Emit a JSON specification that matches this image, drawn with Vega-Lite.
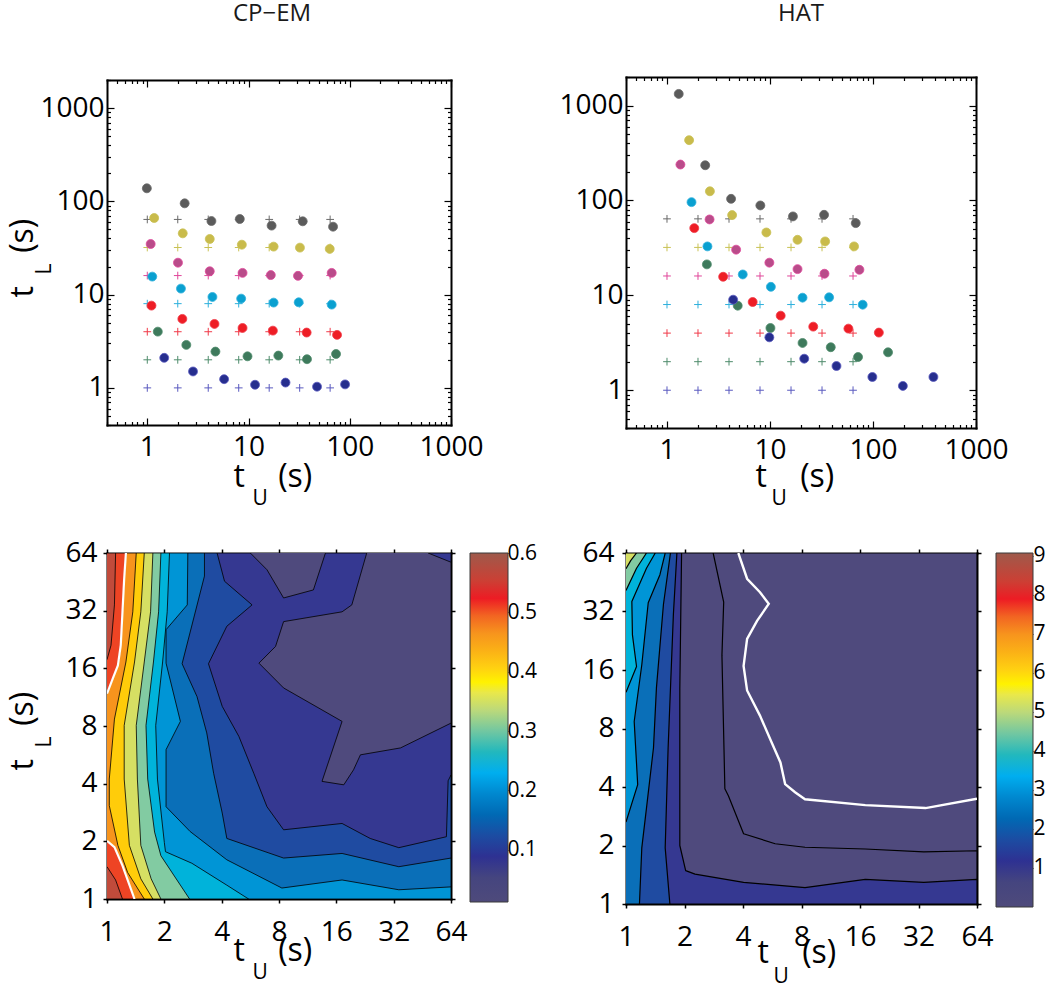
{
"$schema": "https://vega.github.io/schema/vega-lite/v6.json",
"background": "white",
"padding": {"left": 6, "top": 2, "right": 0, "bottom": 4},
"config": {"font": "Open Sans", "view": {"stroke": null}},
"datasets": {
"cpem_pts": [
{"set_tU":1,"set_tL":64,"est_tU":0.99,"est_tL":138},{"set_tU":2,"set_tL":64,"est_tU":2.34,"est_tL":95.2},{"set_tU":4,"set_tL":64,"est_tU":4.30,"est_tL":61.5},{"set_tU":8,"set_tL":64,"est_tU":8.2,"est_tL":64.7},{"set_tU":16,"set_tL":64,"est_tU":16.9,"est_tL":54.9},{"set_tU":32,"set_tL":64,"est_tU":34.3,"est_tL":61.1},{"set_tU":64,"set_tL":64,"est_tU":68.4,"est_tL":53.5},
{"set_tU":1,"set_tL":32,"est_tU":1.17,"est_tL":66.3},{"set_tU":2,"set_tL":32,"est_tU":2.24,"est_tL":45.4},{"set_tU":4,"set_tL":32,"est_tU":4.14,"est_tL":39.5},{"set_tU":8,"set_tL":32,"est_tU":8.59,"est_tL":34.3},{"set_tU":16,"set_tL":32,"est_tU":17.7,"est_tL":32.7},{"set_tU":32,"set_tL":32,"est_tU":32.2,"est_tL":31.9},{"set_tU":64,"set_tL":32,"est_tU":63.4,"est_tL":30.9},
{"set_tU":1,"set_tL":16,"est_tU":1.08,"est_tL":34.9},{"set_tU":2,"set_tL":16,"est_tU":2.01,"est_tL":22.0},{"set_tU":4,"set_tL":16,"est_tU":4.14,"est_tL":17.8},{"set_tU":8,"set_tL":16,"est_tU":8.73,"est_tL":17.1},{"set_tU":16,"set_tL":16,"est_tU":16.6,"est_tL":16.2},{"set_tU":32,"set_tL":16,"est_tU":30.8,"est_tL":15.9},{"set_tU":64,"set_tL":16,"est_tU":66.3,"est_tL":17.1},
{"set_tU":1,"set_tL":8,"est_tU":1.12,"est_tL":15.6},{"set_tU":2,"set_tL":8,"est_tU":2.15,"est_tL":11.6},{"set_tU":4,"set_tL":8,"est_tU":4.40,"est_tL":9.44},{"set_tU":8,"set_tL":8,"est_tU":8.46,"est_tL":9.06},{"set_tU":16,"set_tL":8,"est_tU":17.7,"est_tL":8.21},{"set_tU":32,"set_tL":8,"est_tU":31.3,"est_tL":8.27},{"set_tU":64,"set_tL":8,"est_tU":66.3,"est_tL":7.81},
{"set_tU":1,"set_tL":4,"est_tU":1.10,"est_tL":7.62},{"set_tU":2,"set_tL":4,"est_tU":2.22,"est_tL":5.49},{"set_tU":4,"set_tL":4,"est_tU":4.61,"est_tL":4.85},{"set_tU":8,"set_tL":4,"est_tU":8.73,"est_tL":4.39},{"set_tU":16,"set_tL":4,"est_tU":17.4,"est_tL":4.11},{"set_tU":32,"set_tL":4,"est_tU":37.5,"est_tL":3.92},{"set_tU":64,"set_tL":4,"est_tU":74.9,"est_tL":3.70},
{"set_tU":1,"set_tL":2,"est_tU":1.27,"est_tL":4.01},{"set_tU":2,"set_tL":2,"est_tU":2.43,"est_tL":2.89},{"set_tU":4,"set_tL":2,"est_tU":4.71,"est_tL":2.45},{"set_tU":8,"set_tL":2,"est_tU":9.77,"est_tL":2.18},{"set_tU":16,"set_tL":2,"est_tU":19.7,"est_tL":2.22},{"set_tU":32,"set_tL":2,"est_tU":37.8,"est_tL":2.03},{"set_tU":64,"set_tL":2,"est_tU":73.2,"est_tL":2.31},
{"set_tU":1,"set_tL":1,"est_tU":1.47,"est_tL":2.10},{"set_tU":2,"set_tL":1,"est_tU":2.83,"est_tL":1.50},{"set_tU":4,"set_tL":1,"est_tU":5.74,"est_tL":1.24},{"set_tU":8,"set_tL":1,"est_tU":11.6,"est_tL":1.08},{"set_tU":16,"set_tL":1,"est_tU":23.2,"est_tL":1.14},{"set_tU":32,"set_tL":1,"est_tU":47.5,"est_tL":1.03},{"set_tU":64,"set_tL":1,"est_tU":89.9,"est_tL":1.09}
],
"hat_pts": [
{"set_tU":1,"set_tL":64,"est_tU":1.30,"est_tL":1327},{"set_tU":2,"set_tL":64,"est_tU":2.35,"est_tL":235},{"set_tU":4,"set_tL":64,"est_tU":4.19,"est_tL":104},{"set_tU":8,"set_tL":64,"est_tU":8.06,"est_tL":88.6},{"set_tU":16,"set_tL":64,"est_tU":16.7,"est_tL":67.9},{"set_tU":32,"set_tL":64,"est_tU":33.5,"est_tL":70.6},{"set_tU":64,"set_tL":64,"est_tU":68.0,"est_tL":57.7},
{"set_tU":1,"set_tL":32,"est_tU":1.64,"est_tL":432},{"set_tU":2,"set_tL":32,"est_tU":2.61,"est_tL":125},{"set_tU":4,"set_tL":32,"est_tU":4.29,"est_tL":70.1},{"set_tU":8,"set_tL":32,"est_tU":9.22,"est_tL":46.0},{"set_tU":16,"set_tL":32,"est_tU":18.5,"est_tL":38.5},{"set_tU":32,"set_tL":32,"est_tU":34.3,"est_tL":37.0},{"set_tU":64,"set_tL":32,"est_tU":65.5,"est_tL":32.8},
{"set_tU":1,"set_tL":16,"est_tU":1.35,"est_tL":239},{"set_tU":2,"set_tL":16,"est_tU":2.59,"est_tL":63.1},{"set_tU":4,"set_tL":16,"est_tU":4.69,"est_tL":30.3},{"set_tU":8,"set_tL":16,"est_tU":9.86,"est_tL":22.1},{"set_tU":16,"set_tL":16,"est_tU":18.5,"est_tL":18.9},{"set_tU":32,"set_tL":16,"est_tU":33.8,"est_tL":16.9},{"set_tU":64,"set_tL":16,"est_tU":73.8,"est_tL":18.6},
{"set_tU":1,"set_tL":8,"est_tU":1.73,"est_tL":96.0},{"set_tU":2,"set_tL":8,"est_tU":2.47,"est_tL":32.8},{"set_tU":4,"set_tL":8,"est_tU":5.44,"est_tL":16.6},{"set_tU":8,"set_tL":8,"est_tU":10.2,"est_tL":12.3},{"set_tU":16,"set_tL":8,"est_tU":20.7,"est_tL":9.45},{"set_tU":32,"set_tL":8,"est_tU":37.5,"est_tL":9.53},{"set_tU":64,"set_tL":8,"est_tU":79.4,"est_tL":7.97},
{"set_tU":1,"set_tL":4,"est_tU":1.84,"est_tL":51.1},{"set_tU":2,"set_tL":4,"est_tU":3.51,"est_tL":15.7},{"set_tU":4,"set_tL":4,"est_tU":6.79,"est_tL":8.51},{"set_tU":8,"set_tL":4,"est_tU":12.7,"est_tL":6.11},{"set_tU":16,"set_tL":4,"est_tU":26.3,"est_tL":4.68},{"set_tU":32,"set_tL":4,"est_tU":57.7,"est_tL":4.46},{"set_tU":64,"set_tL":4,"est_tU":114,"est_tL":4.05},
{"set_tU":1,"set_tL":2,"est_tU":2.44,"est_tL":21.2},{"set_tU":2,"set_tL":2,"est_tU":4.86,"est_tL":7.78},{"set_tU":4,"set_tL":2,"est_tU":10.1,"est_tL":4.53},{"set_tU":8,"set_tL":2,"est_tU":20.7,"est_tL":3.15},{"set_tU":16,"set_tL":2,"est_tU":38.9,"est_tL":2.84},{"set_tU":32,"set_tL":2,"est_tU":71.6,"est_tL":2.24},{"set_tU":64,"set_tL":2,"est_tU":140,"est_tL":2.51},
{"set_tU":1,"set_tL":1,"est_tU":4.39,"est_tL":9.0},{"set_tU":2,"set_tL":1,"est_tU":9.86,"est_tL":3.61},{"set_tU":4,"set_tL":1,"est_tU":21.5,"est_tL":2.15},{"set_tU":8,"set_tL":1,"est_tU":44.2,"est_tL":1.80},{"set_tU":16,"set_tL":1,"est_tU":98.6,"est_tL":1.38},{"set_tU":32,"set_tL":1,"est_tU":195,"est_tL":1.11},{"set_tU":64,"set_tL":1,"est_tU":386,"est_tL":1.38}
],
"cpem_poly": [
{"poly":"p00","level":0.05,"i":0,"log2tU":0,"log2tL":0},{"poly":"p00","level":0.05,"i":1,"log2tU":6,"log2tL":0},{"poly":"p00","level":0.05,"i":2,"log2tU":6,"log2tL":6},{"poly":"p00","level":0.05,"i":3,"log2tU":0,"log2tL":6},
{"poly":"p01","level":0,"i":0,"log2tU":2.50,"log2tL":6},{"poly":"p01","level":0,"i":1,"log2tU":2.79,"log2tL":5.71},{"poly":"p01","level":0,"i":2,"log2tU":3.08,"log2tL":5.22},{"poly":"p01","level":0,"i":3,"log2tU":3.60,"log2tL":5.36},{"poly":"p01","level":0,"i":4,"log2tU":3.81,"log2tL":6},
{"poly":"p02","level":0,"i":0,"log2tU":4.53,"log2tL":6},{"poly":"p02","level":0,"i":1,"log2tU":4.27,"log2tL":5.10},{"poly":"p02","level":0,"i":2,"log2tU":4.10,"log2tL":4.98},{"poly":"p02","level":0,"i":3,"log2tU":3.08,"log2tL":4.81},{"poly":"p02","level":0,"i":4,"log2tU":2.94,"log2tL":4.38},{"poly":"p02","level":0,"i":5,"log2tU":2.65,"log2tL":4.09},{"poly":"p02","level":0,"i":6,"log2tU":3.08,"log2tL":3.66},{"poly":"p02","level":0,"i":7,"log2tU":4.10,"log2tL":3.08},{"poly":"p02","level":0,"i":8,"log2tU":3.75,"log2tL":2.04},{"poly":"p02","level":0,"i":9,"log2tU":4.13,"log2tL":1.98},{"poly":"p02","level":0,"i":10,"log2tU":4.30,"log2tL":2.24},{"poly":"p02","level":0,"i":11,"log2tU":4.42,"log2tL":2.50},{"poly":"p02","level":0,"i":12,"log2tU":5.12,"log2tL":2.62},{"poly":"p02","level":0,"i":13,"log2tU":6,"log2tL":3.05},{"poly":"p02","level":0,"i":14,"log2tU":6,"log2tL":5.84},{"poly":"p02","level":0,"i":15,"log2tU":5.60,"log2tL":6},
{"poly":"p03","level":0.1,"i":0,"log2tU":0,"log2tL":6},{"poly":"p03","level":0.1,"i":1,"log2tU":1.92,"log2tL":6},{"poly":"p03","level":0.1,"i":2,"log2tU":2.05,"log2tL":5.51},{"poly":"p03","level":0.1,"i":3,"log2tU":2.53,"log2tL":5.10},{"poly":"p03","level":0.1,"i":4,"log2tU":2.09,"log2tL":4.73},{"poly":"p03","level":0.1,"i":5,"log2tU":1.77,"log2tL":4.08},{"poly":"p03","level":0.1,"i":6,"log2tU":2.01,"log2tL":3.34},{"poly":"p03","level":0.1,"i":7,"log2tU":2.30,"log2tL":2.82},{"poly":"p03","level":0.1,"i":8,"log2tU":2.56,"log2tL":2.18},{"poly":"p03","level":0.1,"i":9,"log2tU":2.79,"log2tL":1.60},{"poly":"p03","level":0.1,"i":10,"log2tU":3.08,"log2tL":1.20},{"poly":"p03","level":0.1,"i":11,"log2tU":4.10,"log2tL":1.31},{"poly":"p03","level":0.1,"i":12,"log2tU":4.59,"log2tL":1.05},{"poly":"p03","level":0.1,"i":13,"log2tU":5.09,"log2tL":0.89},{"poly":"p03","level":0.1,"i":14,"log2tU":5.92,"log2tL":1.08},{"poly":"p03","level":0.1,"i":15,"log2tU":5.95,"log2tL":2.05},{"poly":"p03","level":0.1,"i":16,"log2tU":6,"log2tL":2.15},{"poly":"p03","level":0.1,"i":17,"log2tU":6,"log2tL":0},{"poly":"p03","level":0.1,"i":18,"log2tU":0,"log2tL":0},
{"poly":"p04","level":0.15,"i":0,"log2tU":0,"log2tL":6},{"poly":"p04","level":0.15,"i":1,"log2tU":1.70,"log2tL":6},{"poly":"p04","level":0.15,"i":2,"log2tU":1.70,"log2tL":5.60},{"poly":"p04","level":0.15,"i":3,"log2tU":1.31,"log2tL":4.08},{"poly":"p04","level":0.15,"i":4,"log2tU":1.57,"log2tL":3.51},{"poly":"p04","level":0.15,"i":5,"log2tU":1.74,"log2tL":2.88},{"poly":"p04","level":0.15,"i":6,"log2tU":1.86,"log2tL":2.18},{"poly":"p04","level":0.15,"i":7,"log2tU":2.01,"log2tL":1.49},{"poly":"p04","level":0.15,"i":8,"log2tU":2.09,"log2tL":1.05},{"poly":"p04","level":0.15,"i":9,"log2tU":3.08,"log2tL":0.71},{"poly":"p04","level":0.15,"i":10,"log2tU":4.10,"log2tL":0.79},{"poly":"p04","level":0.15,"i":11,"log2tU":5.09,"log2tL":0.56},{"poly":"p04","level":0.15,"i":12,"log2tU":6,"log2tL":0.71},{"poly":"p04","level":0.15,"i":13,"log2tU":6,"log2tL":0},{"poly":"p04","level":0.15,"i":14,"log2tU":0,"log2tL":0},
{"poly":"p05","level":0.2,"i":0,"log2tU":0,"log2tL":6},{"poly":"p05","level":0.2,"i":1,"log2tU":1.41,"log2tL":6},{"poly":"p05","level":0.2,"i":2,"log2tU":1.40,"log2tL":5.10},{"poly":"p05","level":0.2,"i":3,"log2tU":1.03,"log2tL":4.67},{"poly":"p05","level":0.2,"i":4,"log2tU":1.03,"log2tL":4.09},{"poly":"p05","level":0.2,"i":5,"log2tU":1.28,"log2tL":3.08},{"poly":"p05","level":0.2,"i":6,"log2tU":1.03,"log2tL":2.59},{"poly":"p05","level":0.2,"i":7,"log2tU":1.03,"log2tL":1.60},{"poly":"p05","level":0.2,"i":8,"log2tU":1.45,"log2tL":1.17},{"poly":"p05","level":0.2,"i":9,"log2tU":2.09,"log2tL":0.68},{"poly":"p05","level":0.2,"i":10,"log2tU":3.05,"log2tL":0.19},{"poly":"p05","level":0.2,"i":11,"log2tU":4.10,"log2tL":0.33},{"poly":"p05","level":0.2,"i":12,"log2tU":5.09,"log2tL":0.16},{"poly":"p05","level":0.2,"i":13,"log2tU":6,"log2tL":0.21},{"poly":"p05","level":0.2,"i":14,"log2tU":6,"log2tL":0},{"poly":"p05","level":0.2,"i":15,"log2tU":0,"log2tL":0},
{"poly":"p06","level":0.25,"i":0,"log2tU":0,"log2tL":6},{"poly":"p06","level":0.25,"i":1,"log2tU":1.09,"log2tL":6},{"poly":"p06","level":0.25,"i":2,"log2tU":1.05,"log2tL":4.98},{"poly":"p06","level":0.25,"i":3,"log2tU":0.97,"log2tL":4.11},{"poly":"p06","level":0.25,"i":4,"log2tU":0.85,"log2tL":3.01},{"poly":"p06","level":0.25,"i":5,"log2tU":0.88,"log2tL":2.08},{"poly":"p06","level":0.25,"i":6,"log2tU":1.00,"log2tL":0.98},{"poly":"p06","level":0.25,"i":7,"log2tU":1.02,"log2tL":0.82},{"poly":"p06","level":0.25,"i":8,"log2tU":1.48,"log2tL":0.62},{"poly":"p06","level":0.25,"i":9,"log2tU":2.09,"log2tL":0.24},{"poly":"p06","level":0.25,"i":10,"log2tU":2.47,"log2tL":0},{"poly":"p06","level":0.25,"i":11,"log2tU":0,"log2tL":0},
{"poly":"p07","level":0.3,"i":0,"log2tU":0,"log2tL":6},{"poly":"p07","level":0.3,"i":1,"log2tU":0.94,"log2tL":6},{"poly":"p07","level":0.3,"i":2,"log2tU":0.90,"log2tL":4.98},{"poly":"p07","level":0.3,"i":3,"log2tU":0.81,"log2tL":4.11},{"poly":"p07","level":0.3,"i":4,"log2tU":0.68,"log2tL":3.01},{"poly":"p07","level":0.3,"i":5,"log2tU":0.71,"log2tL":2.08},{"poly":"p07","level":0.3,"i":6,"log2tU":0.83,"log2tL":1.16},{"poly":"p07","level":0.3,"i":7,"log2tU":0.94,"log2tL":0.75},{"poly":"p07","level":0.3,"i":8,"log2tU":1.44,"log2tL":0},{"poly":"p07","level":0.3,"i":9,"log2tU":0,"log2tL":0},
{"poly":"p08","level":0.35,"i":0,"log2tU":0,"log2tL":6},{"poly":"p08","level":0.35,"i":1,"log2tU":0.80,"log2tL":6},{"poly":"p08","level":0.35,"i":2,"log2tU":0.76,"log2tL":4.98},{"poly":"p08","level":0.35,"i":3,"log2tU":0.65,"log2tL":4.11},{"poly":"p08","level":0.35,"i":4,"log2tU":0.51,"log2tL":3.01},{"poly":"p08","level":0.35,"i":5,"log2tU":0.53,"log2tL":2.08},{"poly":"p08","level":0.35,"i":6,"log2tU":0.59,"log2tL":0.93},{"poly":"p08","level":0.35,"i":7,"log2tU":0.77,"log2tL":0.35},{"poly":"p08","level":0.35,"i":8,"log2tU":0.94,"log2tL":0},{"poly":"p08","level":0.35,"i":9,"log2tU":0,"log2tL":0},
{"poly":"p09","level":0.4,"i":0,"log2tU":0,"log2tL":6},{"poly":"p09","level":0.4,"i":1,"log2tU":0.65,"log2tL":6},{"poly":"p09","level":0.4,"i":2,"log2tU":0.59,"log2tL":4.98},{"poly":"p09","level":0.4,"i":3,"log2tU":0.48,"log2tL":4.11},{"poly":"p09","level":0.4,"i":4,"log2tU":0.30,"log2tL":3.01},{"poly":"p09","level":0.4,"i":5,"log2tU":0.30,"log2tL":2.08},{"poly":"p09","level":0.4,"i":6,"log2tU":0.39,"log2tL":0.93},{"poly":"p09","level":0.4,"i":7,"log2tU":0.59,"log2tL":0.35},{"poly":"p09","level":0.4,"i":8,"log2tU":0.80,"log2tL":0},{"poly":"p09","level":0.4,"i":9,"log2tU":0,"log2tL":0},
{"poly":"p10","level":0.45,"i":0,"log2tU":0,"log2tL":6},{"poly":"p10","level":0.45,"i":1,"log2tU":0.51,"log2tL":6},{"poly":"p10","level":0.45,"i":2,"log2tU":0.45,"log2tL":4.98},{"poly":"p10","level":0.45,"i":3,"log2tU":0.33,"log2tL":4.11},{"poly":"p10","level":0.45,"i":4,"log2tU":0.13,"log2tL":3.12},{"poly":"p10","level":0.45,"i":5,"log2tU":0.04,"log2tL":2.08},{"poly":"p10","level":0.45,"i":6,"log2tU":0.04,"log2tL":1.62},{"poly":"p10","level":0.45,"i":7,"log2tU":0.19,"log2tL":0.93},{"poly":"p10","level":0.45,"i":8,"log2tU":0.36,"log2tL":0.46},{"poly":"p10","level":0.45,"i":9,"log2tU":0.65,"log2tL":0},{"poly":"p10","level":0.45,"i":10,"log2tU":0,"log2tL":0},
{"poly":"p11","level":0.5,"i":0,"log2tU":0,"log2tL":6},{"poly":"p11","level":0.5,"i":1,"log2tU":0.33,"log2tL":6},{"poly":"p11","level":0.5,"i":2,"log2tU":0.30,"log2tL":5.56},{"poly":"p11","level":0.5,"i":3,"log2tU":0.24,"log2tL":4.40},{"poly":"p11","level":0.5,"i":4,"log2tU":0.19,"log2tL":4.05},{"poly":"p11","level":0.5,"i":5,"log2tU":0.10,"log2tL":3.82},{"poly":"p11","level":0.5,"i":6,"log2tU":0,"log2tL":3.56},
{"poly":"p12","level":0.5,"i":0,"log2tU":0,"log2tL":1.01},{"poly":"p12","level":0.5,"i":1,"log2tU":0.13,"log2tL":0.90},{"poly":"p12","level":0.5,"i":2,"log2tU":0.27,"log2tL":0.58},{"poly":"p12","level":0.5,"i":3,"log2tU":0.48,"log2tL":0},{"poly":"p12","level":0.5,"i":4,"log2tU":0,"log2tL":0},
{"poly":"p13","level":0.55,"i":0,"log2tU":0,"log2tL":6},{"poly":"p13","level":0.55,"i":1,"log2tU":0.15,"log2tL":6},{"poly":"p13","level":0.55,"i":2,"log2tU":0.13,"log2tL":5.10},{"poly":"p13","level":0.55,"i":3,"log2tU":0.07,"log2tL":4.40},{"poly":"p13","level":0.55,"i":4,"log2tU":0,"log2tL":4.15},
{"poly":"p14","level":0.55,"i":0,"log2tU":0,"log2tL":0.56},{"poly":"p14","level":0.55,"i":1,"log2tU":0.15,"log2tL":0.33},{"poly":"p14","level":0.55,"i":2,"log2tU":0.27,"log2tL":0},{"poly":"p14","level":0.55,"i":3,"log2tU":0,"log2tL":0}
],
"cpem_white": [
{"seg":"w0","i":0,"log2tU":0.33,"log2tL":6},{"seg":"w0","i":1,"log2tU":0.30,"log2tL":5.56},{"seg":"w0","i":2,"log2tU":0.24,"log2tL":4.40},{"seg":"w0","i":3,"log2tU":0.19,"log2tL":4.05},{"seg":"w0","i":4,"log2tU":0.10,"log2tL":3.82},{"seg":"w0","i":5,"log2tU":0,"log2tL":3.56},
{"seg":"w1","i":0,"log2tU":0,"log2tL":1.01},{"seg":"w1","i":1,"log2tU":0.13,"log2tL":0.90},{"seg":"w1","i":2,"log2tU":0.27,"log2tL":0.58},{"seg":"w1","i":3,"log2tU":0.48,"log2tL":0}
],
"hat_poly": [
{"poly":"q00","level":0,"i":0,"log2tU":0,"log2tL":0},{"poly":"q00","level":0,"i":1,"log2tU":6,"log2tL":0},{"poly":"q00","level":0,"i":2,"log2tU":6,"log2tL":6},{"poly":"q00","level":0,"i":3,"log2tU":0,"log2tL":6},
{"poly":"q01","level":1,"i":0,"log2tU":0,"log2tL":6},{"poly":"q01","level":1,"i":1,"log2tU":1.49,"log2tL":6},{"poly":"q01","level":1,"i":2,"log2tU":1.67,"log2tL":5.16},{"poly":"q01","level":1,"i":3,"log2tU":1.64,"log2tL":4.25},{"poly":"q01","level":1,"i":4,"log2tU":1.69,"log2tL":1.97},{"poly":"q01","level":1,"i":5,"log2tU":1.75,"log2tL":1.85},{"poly":"q01","level":1,"i":6,"log2tU":2.01,"log2tL":1.20},{"poly":"q01","level":1,"i":7,"log2tU":2.55,"log2tL":1.03},{"poly":"q01","level":1,"i":8,"log2tU":3.06,"log2tL":0.97},{"poly":"q01","level":1,"i":9,"log2tU":4.09,"log2tL":0.94},{"poly":"q01","level":1,"i":10,"log2tU":5.09,"log2tL":0.89},{"poly":"q01","level":1,"i":11,"log2tU":6,"log2tL":0.91},{"poly":"q01","level":1,"i":12,"log2tU":6,"log2tL":0},{"poly":"q01","level":1,"i":13,"log2tU":0,"log2tL":0},
{"poly":"q02","level":2,"i":0,"log2tU":0,"log2tL":6},{"poly":"q02","level":2,"i":1,"log2tU":0.95,"log2tL":6},{"poly":"q02","level":2,"i":2,"log2tU":0.92,"log2tL":3.68},{"poly":"q02","level":2,"i":3,"log2tU":0.92,"log2tL":1.0},{"poly":"q02","level":2,"i":4,"log2tU":1.02,"log2tL":0.57},{"poly":"q02","level":2,"i":5,"log2tU":1.18,"log2tL":0.51},{"poly":"q02","level":2,"i":6,"log2tU":2.01,"log2tL":0.37},{"poly":"q02","level":2,"i":7,"log2tU":3.06,"log2tL":0.28},{"poly":"q02","level":2,"i":8,"log2tU":4.09,"log2tL":0.42},{"poly":"q02","level":2,"i":9,"log2tU":5.09,"log2tL":0.37},{"poly":"q02","level":2,"i":10,"log2tU":6,"log2tL":0.42},{"poly":"q02","level":2,"i":11,"log2tU":6,"log2tL":0},{"poly":"q02","level":2,"i":12,"log2tU":0,"log2tL":0},
{"poly":"q03","level":3,"i":0,"log2tU":0,"log2tL":6},{"poly":"q03","level":3,"i":1,"log2tU":0.87,"log2tL":6},{"poly":"q03","level":3,"i":2,"log2tU":0.81,"log2tL":4.95},{"poly":"q03","level":3,"i":3,"log2tU":0.72,"log2tL":2.67},{"poly":"q03","level":3,"i":4,"log2tU":0.67,"log2tL":0.96},{"poly":"q03","level":3,"i":5,"log2tU":0.75,"log2tL":0},{"poly":"q03","level":3,"i":6,"log2tU":0,"log2tL":0},
{"poly":"q04","level":4,"i":0,"log2tU":0,"log2tL":6},{"poly":"q04","level":4,"i":1,"log2tU":0.76,"log2tL":6},{"poly":"q04","level":4,"i":2,"log2tU":0.64,"log2tL":5.12},{"poly":"q04","level":4,"i":3,"log2tU":0.52,"log2tL":3.69},{"poly":"q04","level":4,"i":4,"log2tU":0.47,"log2tL":2.67},{"poly":"q04","level":4,"i":5,"log2tU":0.35,"log2tL":1.64},{"poly":"q04","level":4,"i":6,"log2tU":0.27,"log2tL":0.96},{"poly":"q04","level":4,"i":7,"log2tU":0.23,"log2tL":0},{"poly":"q04","level":4,"i":8,"log2tU":0,"log2tL":0},
{"poly":"q05","level":5,"i":0,"log2tU":0,"log2tL":6},{"poly":"q05","level":5,"i":1,"log2tU":0.67,"log2tL":6},{"poly":"q05","level":5,"i":2,"log2tU":0.58,"log2tL":5.63},{"poly":"q05","level":5,"i":3,"log2tU":0.38,"log2tL":5.15},{"poly":"q05","level":5,"i":4,"log2tU":0.27,"log2tL":4.09},{"poly":"q05","level":5,"i":5,"log2tU":0.14,"log2tL":3.12},{"poly":"q05","level":5,"i":6,"log2tU":0.20,"log2tL":2.04},{"poly":"q05","level":5,"i":7,"log2tU":0,"log2tL":1.40},
{"poly":"q06","level":6,"i":0,"log2tU":0,"log2tL":6},{"poly":"q06","level":6,"i":1,"log2tU":0.50,"log2tL":6},{"poly":"q06","level":6,"i":2,"log2tU":0.35,"log2tL":5.74},{"poly":"q06","level":6,"i":3,"log2tU":0.10,"log2tL":5.17},{"poly":"q06","level":6,"i":4,"log2tU":0.11,"log2tL":4.60},{"poly":"q06","level":6,"i":5,"log2tU":0.18,"log2tL":4.06},{"poly":"q06","level":6,"i":6,"log2tU":0,"log2tL":3.62},
{"poly":"q07","level":7,"i":0,"log2tU":0,"log2tL":6},{"poly":"q07","level":7,"i":1,"log2tU":0.35,"log2tL":6},{"poly":"q07","level":7,"i":2,"log2tU":0.18,"log2tL":5.74},{"poly":"q07","level":7,"i":3,"log2tU":0,"log2tL":5.36},
{"poly":"q08","level":8,"i":0,"log2tU":0,"log2tL":6},{"poly":"q08","level":8,"i":1,"log2tU":0.18,"log2tL":6},{"poly":"q08","level":8,"i":2,"log2tU":0.08,"log2tL":5.87},{"poly":"q08","level":8,"i":3,"log2tU":0,"log2tL":5.73}
],
"hat_white": [
{"seg":"w0","i":0,"log2tU":1.92,"log2tL":6},{"seg":"w0","i":1,"log2tU":2.07,"log2tL":5.56},{"seg":"w0","i":2,"log2tU":2.29,"log2tL":5.33},{"seg":"w0","i":3,"log2tU":2.44,"log2tL":5.13},{"seg":"w0","i":4,"log2tU":2.24,"log2tL":4.84},{"seg":"w0","i":5,"log2tU":2.07,"log2tL":4.53},{"seg":"w0","i":6,"log2tU":2.01,"log2tL":4.07},{"seg":"w0","i":7,"log2tU":2.07,"log2tL":3.65},{"seg":"w0","i":8,"log2tU":2.29,"log2tL":3.22},{"seg":"w0","i":9,"log2tU":2.49,"log2tL":2.76},{"seg":"w0","i":10,"log2tU":2.64,"log2tL":2.42},{"seg":"w0","i":11,"log2tU":2.72,"log2tL":2.05},{"seg":"w0","i":12,"log2tU":2.89,"log2tL":1.91},{"seg":"w0","i":13,"log2tU":3.06,"log2tL":1.79},{"seg":"w0","i":14,"log2tU":4.09,"log2tL":1.69},{"seg":"w0","i":15,"log2tU":5.12,"log2tL":1.64},{"seg":"w0","i":16,"log2tU":6,"log2tL":1.80}
]
},
"concat": [
 {"width": 344, "height": 345,
  "title": {"text": "CP\u2212EM", "fontSize": 24, "fontWeight": "normal", "color": "#1a1a1a", "offset": 21, "dx": -7, "baseline": "alphabetic"},
  "data": {"name": "cpem_pts"},
  "layer": [
   {"mark": {"type": "point", "shape": "M-1,0L1,0M0,-1L0,1", "size": 60, "filled": false, "strokeWidth": 1, "opacity": 1},
    "encoding": {
     "x": {"field": "set_tU", "type": "quantitative", "scale": {"type": "log", "domain": [0.4, 1000], "nice": false},
       "axis": {"orient": "bottom", "values": [0.4,0.5,0.6,0.7,0.8,0.9,1,2,3,4,5,6,7,8,9,10,20,30,40,50,60,70,80,90,100,200,300,400,500,600,700,800,900,1000], "labelExpr": "indexof([1,10,100,1000],datum.value)>=0?format(datum.value,'d'):''", "tickSize": {"condition": {"test": "indexof([1,10,100,1000],datum.value)>=0", "value": -7}, "value": -3.5}, "tickColor": "black", "tickWidth": 1.2, "domainColor": "black", "domainWidth": 2, "domainCap": "square", "labelFontSize": 28, "labelColor": "black", "labelPadding": 15, "labelFlush": false, "labelOverlap": false, "labelBound": false, "grid": false, "title": "t\u00a0\u00a0\u00a0\u00a0(s)", "titleFontSize": 32, "titleFontWeight": "normal", "titleColor": "black", "titleAlign": "left", "titleBaseline": "alphabetic", "titleX": 126, "titleY": 61}},
     "y": {"field": "set_tL", "type": "quantitative", "scale": {"type": "log", "domain": [0.4, 2000], "nice": false},
       "axis": {"orient": "left", "values": [0.4,0.5,0.6,0.7,0.8,0.9,1,2,3,4,5,6,7,8,9,10,20,30,40,50,60,70,80,90,100,200,300,400,500,600,700,800,900,1000,2000], "labelExpr": "indexof([1,10,100,1000],datum.value)>=0?format(datum.value,'d'):''", "tickSize": {"condition": {"test": "indexof([1,10,100,1000],datum.value)>=0", "value": -7}, "value": -3.5}, "tickColor": "black", "tickWidth": 1.2, "domainColor": "black", "domainWidth": 2, "domainCap": "square", "labelFontSize": 28, "labelColor": "black", "labelPadding": 10, "labelOverlap": false, "labelBound": false, "grid": false, "title": "t\u00a0\u00a0\u00a0\u00a0(s)", "titleFontSize": 32, "titleFontWeight": "normal", "titleColor": "black", "titleAngle": -90, "titleAlign": "left", "titleBaseline": "alphabetic", "titleX": -75, "titleY": 217}},
     "stroke": {"field": "set_tL", "type": "ordinal", "scale": {"domain": [1,2,4,8,16,32,64], "range": ["#5a5abf","#4f8c6c","#f03a48","#2eb0dc","#e0479a","#c9c255","#6a6a6a"]}, "legend": null}
    }},
   {"mark": {"type": "circle", "size": 80, "opacity": 1, "strokeWidth": 0.8},
    "encoding": {
     "x": {"field": "est_tU", "type": "quantitative",
       "axis": {"orient": "top", "values": [0.4,0.5,0.6,0.7,0.8,0.9,1,2,3,4,5,6,7,8,9,10,20,30,40,50,60,70,80,90,100,200,300,400,500,600,700,800,900,1000], "labels": false, "tickSize": {"condition": {"test": "indexof([1,10,100,1000],datum.value)>=0", "value": -7}, "value": -3.5}, "tickColor": "black", "tickWidth": 1.2, "domainColor": "black", "domainWidth": 2, "domainCap": "square", "grid": false, "title": "U", "titleFontSize": 21, "titleFontWeight": "normal", "titleColor": "black", "titleAngle": 0, "titleAlign": "left", "titleBaseline": "alphabetic", "titleX": 145, "titleY": 424}},
     "y": {"field": "est_tL", "type": "quantitative",
       "axis": {"orient": "right", "values": [0.4,0.5,0.6,0.7,0.8,0.9,1,2,3,4,5,6,7,8,9,10,20,30,40,50,60,70,80,90,100,200,300,400,500,600,700,800,900,1000,2000], "labels": false, "tickSize": {"condition": {"test": "indexof([1,10,100,1000],datum.value)>=0", "value": -7}, "value": -3.5}, "tickColor": "black", "tickWidth": 1.2, "domainColor": "black", "domainWidth": 2, "domainCap": "square", "grid": false, "title": "L", "titleFontSize": 21, "titleFontWeight": "normal", "titleColor": "black", "titleAngle": -90, "titleAlign": "left", "titleBaseline": "alphabetic", "titleX": -401, "titleY": 194}},
     "fill": {"field": "set_tL", "type": "ordinal", "scale": {"domain": [1,2,4,8,16,32,64], "range": ["#262e8e","#3e7a5c","#ee1d25","#0aa0d0","#b94c8a","#c9bb4b","#5b5b5b"]}, "legend": null},
     "stroke": {"field": "set_tL", "type": "ordinal", "legend": null}
    }}
  ],
  "resolve": {"axis": {"x": "independent", "y": "independent"}}
 },
 {"width": 137, "height": 10, "data": {"values": [{"z": 0}]}, "mark": {"type": "point", "opacity": 0}, "encoding": {}},
 {"width": 350, "height": 351,
  "title": {"text": "HAT", "fontSize": 24, "fontWeight": "normal", "color": "#1a1a1a", "offset": 18, "dx": 0, "baseline": "alphabetic"},
  "data": {"name": "hat_pts"},
  "layer": [
   {"mark": {"type": "point", "shape": "M-1,0L1,0M0,-1L0,1", "size": 60, "filled": false, "strokeWidth": 1, "opacity": 1},
    "encoding": {
     "x": {"field": "set_tU", "type": "quantitative", "scale": {"type": "log", "domain": [0.4, 1000], "nice": false},
       "axis": {"orient": "bottom", "values": [0.4,0.5,0.6,0.7,0.8,0.9,1,2,3,4,5,6,7,8,9,10,20,30,40,50,60,70,80,90,100,200,300,400,500,600,700,800,900,1000], "labelExpr": "indexof([1,10,100,1000],datum.value)>=0?format(datum.value,'d'):''", "tickSize": {"condition": {"test": "indexof([1,10,100,1000],datum.value)>=0", "value": -7}, "value": -3.5}, "tickColor": "black", "tickWidth": 1.2, "domainColor": "black", "domainWidth": 2, "domainCap": "square", "labelFontSize": 28, "labelColor": "black", "labelPadding": 15, "labelFlush": false, "labelOverlap": false, "labelBound": false, "grid": false, "title": "t\u00a0\u00a0\u00a0\u00a0(s)", "titleFontSize": 32, "titleFontWeight": "normal", "titleColor": "black", "titleAlign": "left", "titleBaseline": "alphabetic", "titleX": 129, "titleY": 58}},
     "y": {"field": "set_tL", "type": "quantitative", "scale": {"type": "log", "domain": [0.4, 2000], "nice": false},
       "axis": {"orient": "left", "values": [0.4,0.5,0.6,0.7,0.8,0.9,1,2,3,4,5,6,7,8,9,10,20,30,40,50,60,70,80,90,100,200,300,400,500,600,700,800,900,1000,2000], "labelExpr": "indexof([1,10,100,1000],datum.value)>=0?format(datum.value,'d'):''", "tickSize": {"condition": {"test": "indexof([1,10,100,1000],datum.value)>=0", "value": -7}, "value": -3.5}, "tickColor": "black", "tickWidth": 1.2, "domainColor": "black", "domainWidth": 2, "domainCap": "square", "labelFontSize": 28, "labelColor": "black", "labelPadding": 10, "labelOverlap": false, "labelBound": false, "grid": false, "title": null}},
     "stroke": {"field": "set_tL", "type": "ordinal", "scale": {"domain": [1,2,4,8,16,32,64], "range": ["#5a5abf","#4f8c6c","#f03a48","#2eb0dc","#e0479a","#c9c255","#6a6a6a"]}, "legend": null}
    }},
   {"mark": {"type": "circle", "size": 80, "opacity": 1, "strokeWidth": 0.8},
    "encoding": {
     "x": {"field": "est_tU", "type": "quantitative",
       "axis": {"orient": "top", "values": [0.4,0.5,0.6,0.7,0.8,0.9,1,2,3,4,5,6,7,8,9,10,20,30,40,50,60,70,80,90,100,200,300,400,500,600,700,800,900,1000], "labels": false, "tickSize": {"condition": {"test": "indexof([1,10,100,1000],datum.value)>=0", "value": -7}, "value": -3.5}, "tickColor": "black", "tickWidth": 1.2, "domainColor": "black", "domainWidth": 2, "domainCap": "square", "grid": false, "title": "U", "titleFontSize": 21, "titleFontWeight": "normal", "titleColor": "black", "titleAngle": 0, "titleAlign": "left", "titleBaseline": "alphabetic", "titleX": 145, "titleY": 427}},
     "y": {"field": "est_tL", "type": "quantitative",
       "axis": {"orient": "right", "values": [0.4,0.5,0.6,0.7,0.8,0.9,1,2,3,4,5,6,7,8,9,10,20,30,40,50,60,70,80,90,100,200,300,400,500,600,700,800,900,1000,2000], "labels": false, "tickSize": {"condition": {"test": "indexof([1,10,100,1000],datum.value)>=0", "value": -7}, "value": -3.5}, "tickColor": "black", "tickWidth": 1.2, "domainColor": "black", "domainWidth": 2, "domainCap": "square", "grid": false, "title": null}},
     "fill": {"field": "set_tL", "type": "ordinal", "scale": {"domain": [1,2,4,8,16,32,64], "range": ["#262e8e","#3e7a5c","#ee1d25","#0aa0d0","#b94c8a","#c9bb4b","#5b5b5b"]}, "legend": null},
     "stroke": {"field": "set_tL", "type": "ordinal", "legend": null}
    }}
  ],
  "resolve": {"axis": {"x": "independent", "y": "independent"}}
 },
 {"width": 1, "height": 10, "data": {"values": [{"z": 0}]}, "mark": {"type": "point", "opacity": 0}, "encoding": {}},
 {"width": 344, "height": 346,
  "layer": [
   {"data": {"name": "cpem_poly"},
    "mark": {"type": "line", "filled": true, "stroke": "black", "strokeWidth": 0.8, "strokeJoin": "round", "clip": true},
    "encoding": {
     "x": {"field": "log2tU", "type": "quantitative", "scale": {"domain": [0, 6], "nice": false, "zero": false},
       "axis": {"orient": "bottom", "values": [0,1,2,3,4,5,6], "labelExpr": "format(pow(2,datum.value),'d')", "tickSize": 4, "tickColor": "black", "tickWidth": 1.5, "domainColor": "black", "domainWidth": 2, "domainCap": "square", "labelFontSize": 28, "labelColor": "black", "labelPadding": 15, "labelFlush": false, "labelOverlap": false, "labelBound": false, "grid": false, "title": "t\u00a0\u00a0\u00a0\u00a0(s)", "titleFontSize": 32, "titleFontWeight": "normal", "titleColor": "black", "titleAlign": "left", "titleBaseline": "alphabetic", "titleX": 126, "titleY": 61}},
     "y": {"field": "log2tL", "type": "quantitative", "scale": {"domain": [0, 6], "nice": false, "zero": false},
       "axis": {"orient": "left", "values": [0,1,2,3,4,5,6], "labelExpr": "format(pow(2,datum.value),'d')", "tickSize": 4, "tickColor": "black", "tickWidth": 1.5, "domainColor": "black", "domainWidth": 2, "domainCap": "square", "labelFontSize": 28, "labelColor": "black", "labelPadding": 6, "labelOverlap": false, "labelBound": false, "grid": false, "title": "t\u00a0\u00a0\u00a0\u00a0(s)", "titleFontSize": 32, "titleFontWeight": "normal", "titleColor": "black", "titleAngle": -90, "titleAlign": "left", "titleBaseline": "alphabetic", "titleX": -75, "titleY": 217}},
     "color": {"field": "level", "type": "ordinal", "scale": {"domain": [0,0.05,0.1,0.15,0.2,0.25,0.3,0.35,0.4,0.45,0.5,0.55], "range": ["#4f4a7d","#353891","#1f4ba1","#0a6fb8","#0095d6","#00b3da","#82cba2","#d6df63","#ffcc0a","#f7941d","#ee4424","#c14b3b"]}, "legend": null},
     "detail": {"field": "poly"},
     "order": {"field": "i"}
    }},
   {"data": {"name": "cpem_white"},
    "mark": {"type": "line", "stroke": "white", "strokeWidth": 2.2, "clip": true},
    "encoding": {
     "x": {"field": "log2tU", "type": "quantitative",
       "axis": {"orient": "top", "values": [0,1,2,3,4,5,6], "labels": false, "tickSize": 4, "tickColor": "black", "tickWidth": 1.5, "domainColor": "black", "domainWidth": 2, "domainCap": "square", "grid": false, "title": "U", "titleFontSize": 21, "titleFontWeight": "normal", "titleColor": "black", "titleAngle": 0, "titleAlign": "left", "titleBaseline": "alphabetic", "titleX": 145, "titleY": 425}},
     "y": {"field": "log2tL", "type": "quantitative",
       "axis": {"orient": "right", "values": [0,1,2,3,4,5,6], "labels": false, "tickSize": 4, "tickColor": "black", "tickWidth": 1.5, "domainColor": "black", "domainWidth": 2, "domainCap": "square", "grid": false, "title": "L", "titleFontSize": 21, "titleFontWeight": "normal", "titleColor": "black", "titleAngle": -90, "titleAlign": "left", "titleBaseline": "alphabetic", "titleX": -401, "titleY": 194}},
     "detail": {"field": "seg"},
     "order": {"field": "i"}
    }}
  ],
  "resolve": {"axis": {"x": "independent", "y": "independent"}}
 },
 {"width": 38, "height": 349,
  "data": {"values": [{"lo": 0.012, "hi": 0.6}]},
  "mark": {"type": "rect", "stroke": "#3a3a3a", "strokeWidth": 1, "fill": {"gradient": "linear", "x1": 0, "y1": 1, "x2": 0, "y2": 0, "stops": [{"offset": 0, "color": "#4e4a7b"},{"offset": 0.07, "color": "#45457f"},{"offset": 0.13, "color": "#2e3192"},{"offset": 0.19, "color": "#1c4ca2"},{"offset": 0.25, "color": "#0069b4"},{"offset": 0.31, "color": "#0088cf"},{"offset": 0.37, "color": "#00aeef"},{"offset": 0.43, "color": "#22b8bd"},{"offset": 0.49, "color": "#72c7a1"},{"offset": 0.55, "color": "#bcd97a"},{"offset": 0.6, "color": "#e9e84a"},{"offset": 0.63, "color": "#fff200"},{"offset": 0.67, "color": "#ffd111"},{"offset": 0.72, "color": "#fbb116"},{"offset": 0.77, "color": "#f7941d"},{"offset": 0.82, "color": "#f26522"},{"offset": 0.87, "color": "#ed1c24"},{"offset": 0.92, "color": "#cc3f34"},{"offset": 1, "color": "#9e5a4b"}]}},
  "encoding": {
   "y": {"field": "lo", "type": "quantitative", "scale": {"domain": [0.012, 0.6], "nice": false, "zero": false},
     "axis": {"orient": "right", "values": [0.1,0.2,0.3,0.4,0.5,0.6], "format": ".1f", "title": null, "domain": false, "grid": false, "tickSize": -5, "tickColor": "#222", "labelFontSize": 21, "labelColor": "black", "labelPadding": 4, "labelOverlap": false, "labelBound": false}},
   "y2": {"field": "hi"}
  }},
 {"width": 351, "height": 351,
  "layer": [
   {"data": {"name": "hat_poly"},
    "mark": {"type": "line", "filled": true, "stroke": "black", "strokeWidth": 1.2, "strokeJoin": "round", "clip": true},
    "encoding": {
     "x": {"field": "log2tU", "type": "quantitative", "scale": {"domain": [0, 6], "nice": false, "zero": false},
       "axis": {"orient": "bottom", "values": [0,1,2,3,4,5,6], "labelExpr": "format(pow(2,datum.value),'d')", "tickSize": 4, "tickColor": "black", "tickWidth": 1.5, "domainColor": "black", "domainWidth": 2, "domainCap": "square", "labelFontSize": 28, "labelColor": "black", "labelPadding": 15, "labelFlush": false, "labelOverlap": false, "labelBound": false, "grid": false, "title": "t\u00a0\u00a0\u00a0\u00a0(s)", "titleFontSize": 32, "titleFontWeight": "normal", "titleColor": "black", "titleAlign": "left", "titleBaseline": "alphabetic", "titleX": 131, "titleY": 58}},
     "y": {"field": "log2tL", "type": "quantitative", "scale": {"domain": [0, 6], "nice": false, "zero": false},
       "axis": {"orient": "left", "values": [0,1,2,3,4,5,6], "labelExpr": "format(pow(2,datum.value),'d')", "tickSize": 4, "tickColor": "black", "tickWidth": 1.5, "domainColor": "black", "domainWidth": 2, "domainCap": "square", "labelFontSize": 28, "labelColor": "black", "labelPadding": 8, "labelOverlap": false, "labelBound": false, "grid": false, "title": null}},
     "color": {"field": "level", "type": "ordinal", "scale": {"domain": [0,1,2,3,4,5,6,7,8], "range": ["#4f4a7d","#313590","#006bb5","#00a1e0","#2ec2b8","#cde07b","#ffc60c","#f58a1f","#e6332a"]}, "legend": null},
     "detail": {"field": "poly"},
     "order": {"field": "i"}
    }},
   {"data": {"name": "hat_white"},
    "mark": {"type": "line", "stroke": "white", "strokeWidth": 2.4, "clip": true},
    "encoding": {
     "x": {"field": "log2tU", "type": "quantitative",
       "axis": {"orient": "top", "values": [0,1,2,3,4,5,6], "labels": false, "tickSize": 4, "tickColor": "black", "tickWidth": 1.5, "domainColor": "black", "domainWidth": 2, "domainCap": "square", "grid": false, "title": "U", "titleFontSize": 21, "titleFontWeight": "normal", "titleColor": "black", "titleAngle": 0, "titleAlign": "left", "titleBaseline": "alphabetic", "titleX": 147, "titleY": 429}},
     "y": {"field": "log2tL", "type": "quantitative",
       "axis": {"orient": "right", "values": [0,1,2,3,4,5,6], "labels": false, "tickSize": 4, "tickColor": "black", "tickWidth": 1.5, "domainColor": "black", "domainWidth": 2, "domainCap": "square", "grid": false, "title": null}},
     "detail": {"field": "seg"},
     "order": {"field": "i"}
    }}
  ],
  "resolve": {"axis": {"x": "independent", "y": "independent"}}
 },
 {"width": 37, "height": 354,
  "data": {"values": [{"lo": 0, "hi": 9.07}]},
  "mark": {"type": "rect", "stroke": "#3a3a3a", "strokeWidth": 1, "fill": {"gradient": "linear", "x1": 0, "y1": 1, "x2": 0, "y2": 0, "stops": [{"offset": 0, "color": "#4e4a7b"},{"offset": 0.07, "color": "#45457f"},{"offset": 0.13, "color": "#2e3192"},{"offset": 0.19, "color": "#1c4ca2"},{"offset": 0.25, "color": "#0069b4"},{"offset": 0.31, "color": "#0088cf"},{"offset": 0.37, "color": "#00aeef"},{"offset": 0.43, "color": "#22b8bd"},{"offset": 0.49, "color": "#72c7a1"},{"offset": 0.55, "color": "#bcd97a"},{"offset": 0.6, "color": "#e9e84a"},{"offset": 0.63, "color": "#fff200"},{"offset": 0.67, "color": "#ffd111"},{"offset": 0.72, "color": "#fbb116"},{"offset": 0.77, "color": "#f7941d"},{"offset": 0.82, "color": "#f26522"},{"offset": 0.87, "color": "#ed1c24"},{"offset": 0.92, "color": "#cc3f34"},{"offset": 1, "color": "#9e5a4b"}]}},
  "encoding": {
   "y": {"field": "lo", "type": "quantitative", "scale": {"domain": [0, 9.07], "nice": false, "zero": false},
     "axis": {"orient": "right", "values": [1,2,3,4,5,6,7,8,9], "format": "d", "title": null, "domain": false, "grid": false, "tickSize": -5, "tickColor": "#222", "labelFontSize": 21, "labelColor": "black", "labelPadding": 5, "labelOverlap": false, "labelBound": false}},
   "y2": {"field": "hi"}
  }}
],
"columns": 4,
"spacing": {"row": 125, "column": 19},
"bounds": "flush",
"align": "each",
"center": {"row": true, "column": false}
}
